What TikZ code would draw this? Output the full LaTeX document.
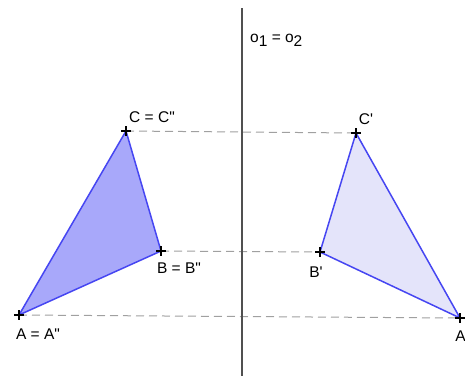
\documentclass[tikz,border=0pt]{standalone}
\usepackage{fontspec}
\setmainfont{Liberation Sans}
\usetikzlibrary{positioning, calc}
\definecolor{triedge}{HTML}{4646F2}
\definecolor{trifillA}{HTML}{A8A8FA}
\definecolor{trifillB}{HTML}{E4E4FA}
\definecolor{axisgray}{HTML}{505050}
\definecolor{dashgray}{HTML}{A0A0A0}

\begin{document}
\begin{tikzpicture}[
  x=1pt, y=-1pt,
  line cap=butt, line join=round,
  tri/.style  = {draw=triedge, line width=1.5pt},
  axis/.style = {draw=axisgray, line width=1.4pt},
  proj/.style = {draw=dashgray, line width=1pt, dash pattern=on 8pt off 5pt},
  pt/.style   = {draw=black, line width=1.4pt},
  lbl/.style  = {font=\fontsize{15.5}{18}\selectfont, inner sep=0pt, anchor=center}
]
\useasboundingbox (0,0) rectangle (465,376);

% punkty
\coordinate (A)  at (19,315);
\coordinate (B)  at (161,251);
\coordinate (C)  at (126,131);
\coordinate (A2) at (460,318);
\coordinate (B2) at (320,252);
\coordinate (C2) at (356,133);
% os symetrii
\coordinate (o1) at (242,8);
\coordinate (o2) at (242,376);

% trojkaty
\filldraw[tri, fill=trifillA] (A) -- (B) -- (C) -- cycle;
\filldraw[tri, fill=trifillB] (A2) -- (B2) -- (C2) -- cycle;

% rzuty
\draw[proj] (C) -- (C2);
\draw[proj] (B) -- (B2);
\draw[proj] (A) -- (A2);

\draw[axis] (o1) -- (o2);

% krzyzyki
\foreach \p in {A,B,C,A2,B2,C2}
  \draw[pt] (\p) ++(-5,0) -- ++(10,0) (\p) ++(0,-5) -- ++(0,10);

% etykiety
\node[lbl] (lC)  at (152,117) {C = C\textquotedbl};
\node[lbl] (lB)  at (179,268) {B = B\textquotedbl};
\node[lbl] (lA)  at (38,334)  {A = A\textquotedbl};
\node[lbl] (lC2) at (366,119) {C\textquotesingle};
\node[lbl] (lB2) at (316,272) {B\textquotesingle};
\node[lbl] (lA2) at (462,336) {A\textquotesingle};
\node[lbl, anchor=west] (lo) at (250,40)
  {o\raisebox{-0.45ex}{1} = o\raisebox{-0.45ex}{2}};

\end{tikzpicture}
\end{document}
